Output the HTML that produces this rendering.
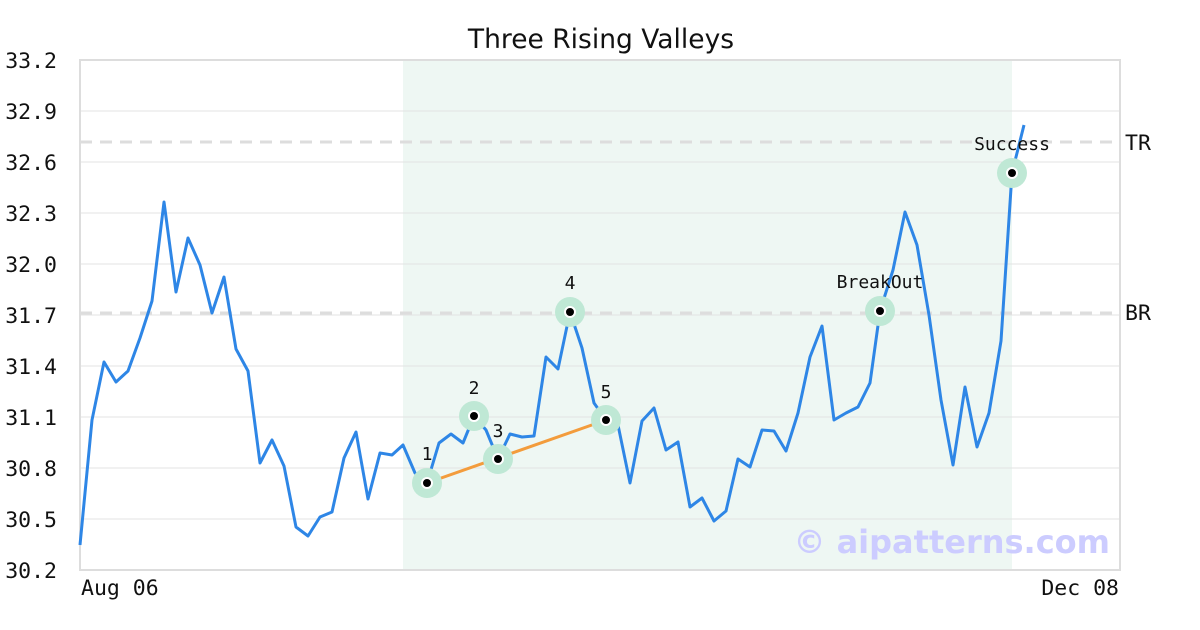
<!DOCTYPE html>
<html><head><meta charset="utf-8"><style>
html,body{margin:0;padding:0;background:#fff;width:1200px;height:630px;overflow:hidden}
</style></head><body>
<svg width="1200" height="630" xmlns="http://www.w3.org/2000/svg">
<rect width="1200" height="630" fill="#fff"/>
<text x="601" y="48" text-anchor="middle" font-family="DejaVu Sans, sans-serif" font-size="26.5" fill="#111">Three Rising Valleys</text>
<rect x="403" y="60" width="609" height="510" fill="#eef7f3"/>
<g stroke="#e3e3e3" stroke-width="1">
<line x1="80" x2="1120" y1="111" y2="111"/><line x1="80" x2="1120" y1="162" y2="162"/>
<line x1="80" x2="1120" y1="213" y2="213"/><line x1="80" x2="1120" y1="264" y2="264"/>
<line x1="80" x2="1120" y1="315" y2="315"/><line x1="80" x2="1120" y1="366" y2="366"/>
<line x1="80" x2="1120" y1="417" y2="417"/><line x1="80" x2="1120" y1="468" y2="468"/>
<line x1="80" x2="1120" y1="519" y2="519"/>
</g>
<rect x="80" y="60" width="1040" height="510" fill="none" stroke="#ddd" stroke-width="2"/>
<g stroke="#ddd" stroke-width="3" stroke-dasharray="12,8">
<line x1="80" x2="1120" y1="142" y2="142"/><line x1="80" x2="1120" y1="313" y2="313"/>
</g>
<g font-family="DejaVu Sans Mono, monospace" font-size="21.5" fill="#111">
<text x="1125" y="150">TR</text><text x="1125" y="320">BR</text>
<g text-anchor="end">
<text x="57" y="68">33.2</text><text x="57" y="119">32.9</text><text x="57" y="170">32.6</text>
<text x="57" y="221">32.3</text><text x="57" y="272">32.0</text><text x="57" y="323">31.7</text>
<text x="57" y="374">31.4</text><text x="57" y="425">31.1</text><text x="57" y="476">30.8</text>
<text x="57" y="527">30.5</text><text x="57" y="578">30.2</text>
</g>
<text x="81" y="595">Aug 06</text><text x="1119" y="595" text-anchor="end">Dec 08</text>
</g>
<text x="1110" y="553" text-anchor="end" font-family="DejaVu Sans, sans-serif" font-weight="bold" font-size="32" fill="#ccccff">© aipatterns.com</text>
<polyline fill="none" stroke="#2e86e6" stroke-width="3" stroke-linejoin="round" points="80,545 92,420 104,362 116,382 128,371 140,338 152,301 164,202 176,292 188,238 200,265 212,313 224,277 236,349 248,371 260,463 272,440 284,466 296,527 308,536 320,517 332,512 344,458 356,432 368,499 380,453 392,455 403,445 415,473 427,483 439,443 451,434 463,443 474,416 486,430 498,459 510,434 522,437 534,436 546,357 558,369 570,312 582,348 594,403 606,420 618,425 630,483 642,421 654,408 666,450 678,442 690,507 702,498 714,521 726,511 738,459 750,467 762,430 774,431 786,451 798,413 810,357 822,326 834,420 846,413 858,407 870,383 880,311 893,270 905,212 917,245 929,315 941,400 953,465 965,387 977,447 989,413 1001,341 1012,173 1024,125"/>
<line x1="427" y1="483" x2="606" y2="420" stroke="#f39c3c" stroke-width="3"/>
<g fill="#bfe8d5">
<circle cx="427" cy="483" r="15"/><circle cx="474" cy="416" r="15"/><circle cx="498" cy="459" r="15"/>
<circle cx="570" cy="312" r="15"/><circle cx="606" cy="420" r="15"/><circle cx="880" cy="311" r="15"/><circle cx="1012" cy="173" r="15"/>
</g>
<g fill="#000" stroke="#fff" stroke-width="2">
<circle cx="427" cy="483" r="5"/><circle cx="474" cy="416" r="5"/><circle cx="498" cy="459" r="5"/>
<circle cx="570" cy="312" r="5"/><circle cx="606" cy="420" r="5"/><circle cx="880" cy="311" r="5"/><circle cx="1012" cy="173" r="5"/>
</g>
<g font-family="DejaVu Sans Mono, monospace" font-size="18" fill="#111" text-anchor="middle">
<text x="427" y="460">1</text><text x="474" y="394">2</text><text x="498" y="437">3</text>
<text x="570" y="289">4</text><text x="606" y="398">5</text><text x="880" y="288">BreakOut</text><text x="1012" y="150">Success</text>
</g>
</svg>
</body></html>
